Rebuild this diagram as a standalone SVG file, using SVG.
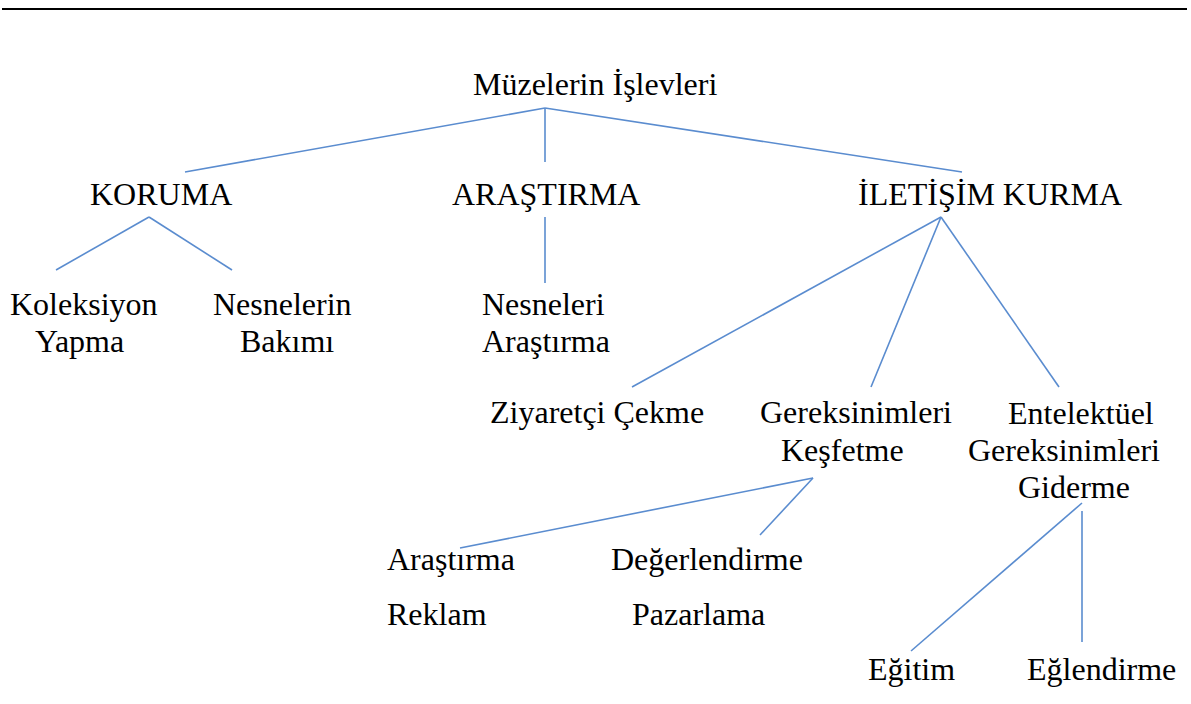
<svg xmlns="http://www.w3.org/2000/svg" width="1191" height="704" viewBox="0 0 1191 704">
<style>
text{font-family:"Liberation Serif","Times New Roman",serif;font-size:32px;fill:#000}
.c line{stroke:#5a8ccf;stroke-width:1.6;fill:none}
</style>
<rect width="1191" height="704" fill="#fff"/>
<line x1="2" y1="9" x2="1187" y2="9" stroke="#000" stroke-width="2"/>
<g id="connectors" class="c">
<line x1="545" y1="108" x2="185" y2="172"/>
<line x1="545" y1="108" x2="545" y2="162"/>
<line x1="545" y1="108" x2="962" y2="172"/>
<line x1="149" y1="217" x2="56" y2="270"/>
<line x1="149" y1="217" x2="232" y2="270"/>
<line x1="545" y1="217" x2="545" y2="283"/>
<line x1="941" y1="217" x2="632" y2="387"/>
<line x1="941" y1="217" x2="871" y2="387"/>
<line x1="941" y1="217" x2="1059" y2="387"/>
<line x1="813" y1="478" x2="460" y2="548"/>
<line x1="813" y1="478" x2="760" y2="535"/>
<line x1="1082" y1="503" x2="911" y2="651"/>
<line x1="1082" y1="511" x2="1082" y2="642"/>
</g>
<g id="root"><text x="473" y="95">Müzelerin İşlevleri</text></g>
<g id="koruma"><text x="90" y="205">KORUMA</text></g>
<g id="arastirma"><text x="452" y="205">ARAŞTIRMA</text></g>
<g id="iletisim"><text x="858" y="205">İLETİŞİM KURMA</text></g>
<g id="koleksiyon"><text x="10" y="315">Koleksiyon</text><text x="35" y="352">Yapma</text></g>
<g id="bakim"><text x="213" y="315">Nesnelerin</text><text x="240" y="352">Bakımı</text></g>
<g id="nesneleri"><text x="482" y="315">Nesneleri</text><text x="482" y="352">Araştırma</text></g>
<g id="ziyaretci"><text x="490" y="423">Ziyaretçi Çekme</text></g>
<g id="gereksinim"><text x="760" y="423">Gereksinimleri</text><text x="781" y="461">Keşfetme</text></g>
<g id="entelektuel"><text x="1008" y="424">Entelektüel</text><text x="968" y="461">Gereksinimleri</text><text x="1018" y="498">Giderme</text></g>
<g id="arastirma2"><text x="387" y="570">Araştırma</text><text x="387" y="625">Reklam</text></g>
<g id="degerlendirme"><text x="611" y="570">Değerlendirme</text><text x="632" y="625">Pazarlama</text></g>
<g id="egitim"><text x="868" y="680">Eğitim</text></g>
<g id="eglendirme"><text x="1027" y="680">Eğlendirme</text></g>
</svg>
